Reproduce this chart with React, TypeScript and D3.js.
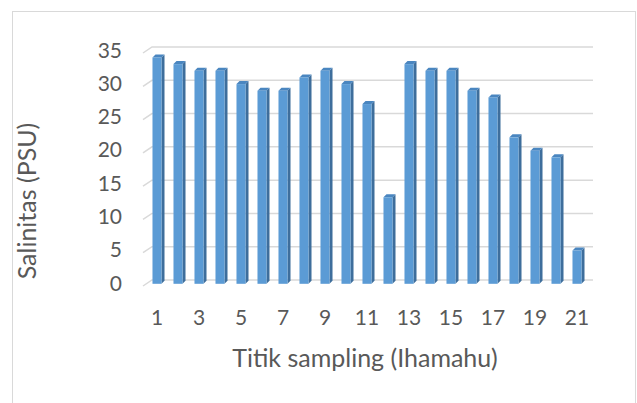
import React from "react";
import * as d3 from "d3";

const categories = Array.from({ length: 21 }, (_, i) => String(i + 1));
const salinity = [34, 33, 32, 32, 30, 29, 29, 31, 32, 30, 27, 13, 33, 32, 32, 29, 28, 22, 20, 19, 5];
const yTicks = [0, 5, 10, 15, 20, 25, 30, 35];
const xTitle = "Titik sampling (Ihamahu)";
const yTitle = "Salinitas (PSU)";

const W = 637;
const H = 403;
const FONT = "Lato, 'Open Sans', sans-serif";
const TEXT = "#595959";

export default function App() {
  // back wall plane
  const x = d3.scaleBand().domain(categories).range([152, 593]).paddingInner(0.57).paddingOuter(0.285);
  const y = d3.scaleLinear().domain([0, 35]).range([280, 47]);
  const floorDx = -9, floorDy = 6; // front edge offset
  const barDx = -5.5, barDy = 3.8; // bar front-face offset
  const depthX = 3, depthY = -3;

  const bw = x.bandwidth();

  return (
    <svg width={W} height={H} style={{ position: "absolute", left: 0, top: 0 }}>
      <rect x={0} y={0} width={W} height={H} fill="#fff" />
      <rect x={12.5} y={11.5} width={623} height={400} fill="#fff" stroke="#d9d9d9" strokeWidth={1} />
      {/* gridlines */}
      {yTicks.map((t) => (
        <g key={t}>
          <polyline
            points={`${152 + floorDx},${y(t) + floorDy} 152,${y(t)} 593,${y(t)}`}
            fill="none"
            stroke="#d9d9d9"
            strokeWidth={1.5}
          />
          <text x={122} y={y(t) + floorDy - 4} textAnchor="end" dominantBaseline="central" fontFamily={FONT} fontSize={21} fill={TEXT}>
            {t}
          </text>
        </g>
      ))}
      {/* bars */}
      {salinity.map((v, i) => {
        const x0 = (x(categories[i]) as number) + barDx;
        const y0 = y(v) + barDy;
        const yb = y(0) + barDy;
        return (
          <g key={i}>
            <polygon
              points={`${x0 + bw},${y0} ${x0 + bw + depthX},${y0 + depthY} ${x0 + bw + depthX},${yb + depthY} ${x0 + bw},${yb}`}
              fill="#3E6E9C"
            />
            <polygon
              points={`${x0},${y0} ${x0 + depthX},${y0 + depthY} ${x0 + bw + depthX},${y0 + depthY} ${x0 + bw},${y0}`}
              fill="#4A86C0"
            />
            <rect x={x0} y={y0} width={bw} height={yb - y0} fill="#5B9BD5" />
          </g>
        );
      })}
      {/* x tick labels */}
      {categories.map((c, i) =>
        i % 2 === 0 ? (
          <text
            key={c}
            x={(x(c) as number) + barDx + bw / 2}
            y={316}
            textAnchor="middle"
            dominantBaseline="central"
            fontFamily={FONT}
            fontSize={21}
            fill={TEXT}
          >
            {c}
          </text>
        ) : null
      )}
      <text x={365} y={357} textAnchor="middle" dominantBaseline="central" fontFamily={FONT} fontSize={25} fill={TEXT}>
        {xTitle}
      </text>
      <text
        transform={`translate(26,${201}) rotate(-90)`}
        textAnchor="middle"
        dominantBaseline="central"
        fontFamily={FONT}
        fontSize={25}
        fill={TEXT}
      >
        {yTitle}
      </text>
    </svg>
  );
}
